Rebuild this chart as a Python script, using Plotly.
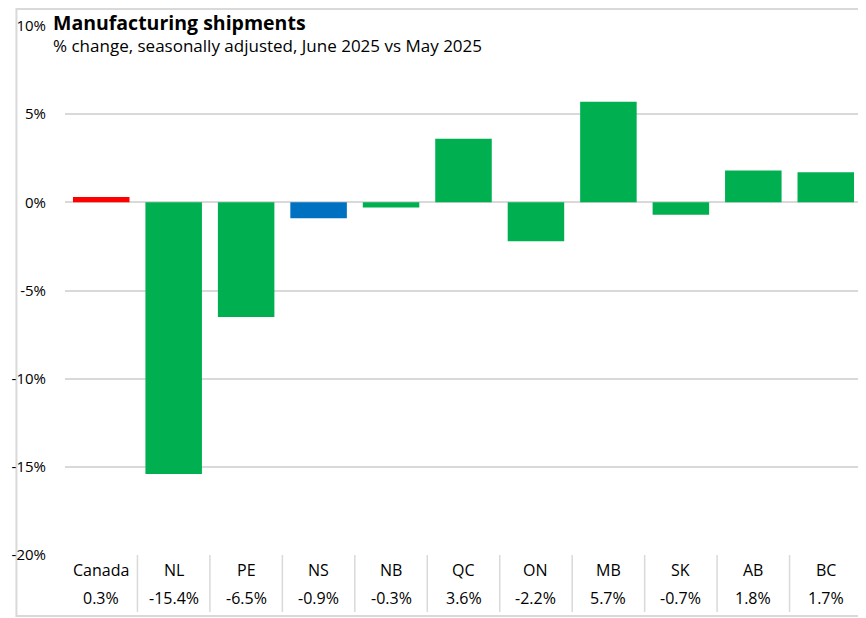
import plotly.graph_objects as go

categories = ["Canada", "NL", "PE", "NS", "NB", "QC", "ON", "MB", "SK", "AB", "BC"]
values = [0.3, -15.4, -6.5, -0.9, -0.3, 3.6, -2.2, 5.7, -0.7, 1.8, 1.7]
value_labels = ["0.3%", "-15.4%", "-6.5%", "-0.9%", "-0.3%", "3.6%", "-2.2%", "5.7%", "-0.7%", "1.8%", "1.7%"]
bar_colors = ["#FF0000", "#00B050", "#00B050", "#0070C0", "#00B050", "#00B050",
              "#00B050", "#00B050", "#00B050", "#00B050", "#00B050"]
y_ticks = [-20, -15, -10, -5, 0, 5, 10]
y_tick_labels = ["-20%", "-15%", "-10%", "-5%", "0%", "5%", "10%"]
title_text = "Manufacturing shipments"
subtitle_text = "% change, seasonally adjusted, June 2025 vs May 2025"

FONT = "Open Sans"
OFF = 8  # page body margin
W, H = 866 - OFF, 618 - OFF
L, R, T, B = 58 - OFF, 4, 26 - OFF, 63
pw = W - L - R
ph = H - T - B
bottom = T + ph  # plot bottom in figure px


def py(y_page):
    return (bottom - (y_page - OFF)) / ph


def px(x_page):
    return ((x_page - OFF) - L) / pw


fig = go.Figure(go.Bar(x=categories, y=values, marker_color=bar_colors,
                       marker_line_width=0, hoverinfo="x+y"))

annotations = []
shapes = []
for i, (c, v) in enumerate(zip(categories, value_labels)):
    annotations.append(dict(x=c, xref="x", y=py(570), yref="paper", text=c,
                            showarrow=False, font=dict(family=FONT, size=16, color="#000000"),
                            xanchor="center", yanchor="middle"))
    annotations.append(dict(x=c, xref="x", y=py(598), yref="paper", text=v,
                            showarrow=False, font=dict(family=FONT, size=16, color="#000000"),
                            xanchor="center", yanchor="middle"))
    if i > 0:
        shapes.append(dict(type="line", xref="x", yref="paper", x0=i - 0.5, x1=i - 0.5,
                           y0=0, y1=py(612), line=dict(color="#D9D9D9", width=1.5)))

annotations.append(dict(
    x=px(45), xref="paper", y=py(OFF), yref="paper",
    text=f"<span style='font-size:19.5px'><b>{title_text}</b></span><br>{subtitle_text}",
    showarrow=False, borderpad=0, align="left",
    font=dict(family=FONT, size=17, color="#000000"),
    xanchor="left", yanchor="top"))

# outer frame
shapes.append(dict(type="rect", xref="paper", yref="paper",
                   x0=(1 - L) / pw, x1=(W - 1 - L) / pw,
                   y0=-(B - 2) / ph, y1=(ph + T - 1) / ph,
                   line=dict(color="#D9D9D9", width=2), layer="below"))

fig.update_layout(
    width=W, height=H,
    margin=dict(l=L, r=R, t=T, b=B),
    paper_bgcolor="white", plot_bgcolor="white",
    bargap=0.22,
    showlegend=False,
    font=dict(family=FONT, size=15, color="#000000"),
    annotations=annotations,
    shapes=shapes,
    xaxis=dict(showticklabels=False, showgrid=False, zeroline=False, showline=False,
               ticks="", range=[-0.5, len(categories) - 0.5], fixedrange=True),
    yaxis=dict(range=[-20, 10], tickvals=y_ticks, ticktext=y_tick_labels,
               showgrid=True, gridcolor="#D9D9D9", gridwidth=1.5,
               zeroline=True, zerolinecolor="#D9D9D9", zerolinewidth=1.5,
               showline=False, ticks="", ticklabelstandoff=18,
               tickfont=dict(family=FONT, size=15, color="#000000"), fixedrange=True),
)

fig.write_html("out.html")
